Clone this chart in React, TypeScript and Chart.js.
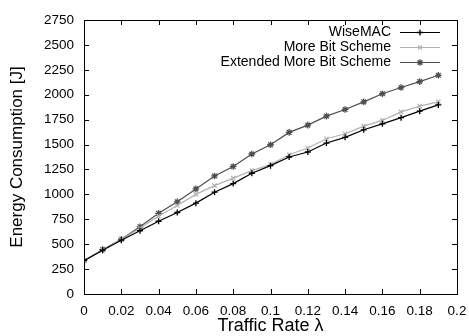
import React, { useEffect, useRef } from "react";
import { Chart, registerables } from "chart.js";
import { drawPoint } from "chart.js/helpers";

Chart.register(...registerables);

const trafficRates = [0, 0.01, 0.02, 0.03, 0.04, 0.05, 0.06, 0.07, 0.08, 0.09, 0.1, 0.11, 0.12, 0.13, 0.14, 0.15, 0.16, 0.17, 0.18, 0.19];
const wiseMAC = [335, 440, 540, 635, 730, 818, 912, 1022, 1108, 1212, 1288, 1375, 1425, 1515, 1572, 1648, 1708, 1770, 1835, 1898];
const moreBitScheme = [335, 442, 548, 660, 782, 888, 1000, 1088, 1163, 1238, 1300, 1398, 1465, 1558, 1608, 1685, 1742, 1828, 1885, 1928];
const extendedMoreBitScheme = [335, 445, 550, 675, 810, 925, 1055, 1185, 1280, 1405, 1498, 1622, 1695, 1785, 1852, 1928, 2010, 2072, 2132, 2195];
const seriesNames = ["WiseMAC", "More Bit Scheme", "Extended More Bit Scheme"];
const xTitle = "Traffic Rate λ";
const yTitle = "Energy Consumption [J]";

const FONT = "'Liberation Sans', Arial, Helvetica, sans-serif";

const framePlugin = {
  id: "frameTicks",
  afterDatasetsDraw(chart: any) {
    const { ctx, chartArea: a, scales } = chart;
    ctx.save();
    ctx.strokeStyle = "#000";
    ctx.lineWidth = 1;
    ctx.beginPath();
    const tl = 5;
    for (const t of scales.x.ticks) {
      const px = Math.round(scales.x.getPixelForValue(t.value)) + 0.5;
      ctx.moveTo(px, a.bottom);
      ctx.lineTo(px, a.bottom - tl);
      ctx.moveTo(px, a.top);
      ctx.lineTo(px, a.top + tl);
    }
    for (const t of scales.y.ticks) {
      const py = Math.round(scales.y.getPixelForValue(t.value)) + 0.5;
      ctx.moveTo(a.left, py);
      ctx.lineTo(a.left + tl, py);
      ctx.moveTo(a.right, py);
      ctx.lineTo(a.right - tl, py);
    }
    ctx.stroke();
    ctx.strokeRect(Math.round(a.left) + 0.5, Math.round(a.top) + 0.5, Math.round(a.right - a.left), Math.round(a.bottom - a.top));
    ctx.restore();
  },
  afterDraw(chart: any) {
    const { ctx, chartArea: a } = chart;
    ctx.save();
    ctx.font = `14px ${FONT}`;
    ctx.textAlign = "right";
    ctx.textBaseline = "middle";
    const textRight = a.right - 66;
    const lineX1 = a.right - 57;
    const lineX2 = a.right - 17;
    chart.data.datasets.forEach((ds: any, i: number) => {
      const y = a.top + 12 + i * 15;
      ctx.fillStyle = "#000";
      ctx.fillText(ds.label, textRight, y);
      ctx.strokeStyle = ds.borderColor;
      ctx.lineWidth = ds.borderWidth;
      ctx.beginPath();
      ctx.moveTo(lineX1, y + 0.5);
      ctx.lineTo(lineX2, y + 0.5);
      ctx.stroke();
      ctx.fillStyle = ds.pointBackgroundColor;
      ctx.strokeStyle = ds.pointBorderColor;
      ctx.lineWidth = ds.pointBorderWidth;
      drawPoint(ctx, { pointStyle: ds.pointStyle, radius: ds.pointRadius, rotation: 0, borderWidth: ds.pointBorderWidth }, (lineX1 + lineX2) / 2, y + 0.5);
    });
    ctx.restore();
  },
};

export default function App() {
  const ref = useRef<HTMLCanvasElement>(null);
  useEffect(() => {
    document.body.style.margin = "0";
    const mk = (vals: number[]) => vals.map((v, i) => ({ x: trafficRates[i], y: v }));
    const styles = [
      { color: "#000000", pointStyle: "cross", radius: 3 },
      { color: "#b2b2b2", pointStyle: "crossRot", radius: 3 },
      { color: "#4e4e4e", pointStyle: "star", radius: 3.3 },
    ];
    const series = [wiseMAC, moreBitScheme, extendedMoreBitScheme];
    const chart = new Chart(ref.current!, {
      type: "line",
      data: {
        datasets: series.map((s, i) => ({
          label: seriesNames[i],
          data: mk(s),
          borderColor: styles[i].color,
          backgroundColor: styles[i].color,
          pointBackgroundColor: styles[i].color,
          pointBorderColor: styles[i].color,
          borderWidth: 1.2,
          pointBorderWidth: 1.3,
          pointRadius: styles[i].radius,
          pointStyle: styles[i].pointStyle as any,
          tension: 0,
          fill: false,
        })),
      },
      options: {
        responsive: false,
        animation: false,
        layout: { padding: { left: 0, right: 12, top: 20, bottom: 0 } },
        plugins: { legend: { display: false }, tooltip: { enabled: false } },
        scales: {
          x: {
            type: "linear",
            min: 0,
            max: 0.2,
            grid: { display: false, drawTicks: false },
            border: { display: false },
            ticks: {
              stepSize: 0.02,
              padding: 9,
              color: "#000",
              font: { family: FONT, size: 13.5 },
              maxRotation: 0,
              autoSkip: false,
              callback: (v: any) => String(Number(Number(v).toFixed(2))),
            },
            title: { display: true, text: xTitle, color: "#000", font: { family: FONT, size: 18 }, padding: { top: 0, bottom: -1 } },
            afterFit: (s: any) => {
              s.height = 42;
              s.paddingLeft = 0;
              s.paddingRight = 0;
              s.paddingTop = 0;
              s.paddingBottom = 0;
            },
          },
          y: {
            min: 0,
            max: 2750,
            grid: { display: false, drawTicks: false },
            border: { display: false },
            ticks: {
              stepSize: 250,
              padding: 10,
              color: "#000",
              font: { family: FONT, size: 13.5 },
              callback: (v: any) => String(Math.round(Number(v))),
            },
            title: { display: true, text: yTitle, color: "#000", font: { family: FONT, size: 17 }, padding: { top: 7, bottom: 0 } },
            afterFit: (s: any) => {
              s.width = 84;
              s.paddingLeft = 0;
              s.paddingRight = 0;
              s.paddingTop = 0;
              s.paddingBottom = 0;
            },
          },
        },
      },
      plugins: [framePlugin],
    });
    return () => chart.destroy();
  }, []);
  return (
    <div style={{ width: 469, height: 336 }}>
      <canvas ref={ref} width={469} height={336} style={{ display: "block" }} />
    </div>
  );
}
